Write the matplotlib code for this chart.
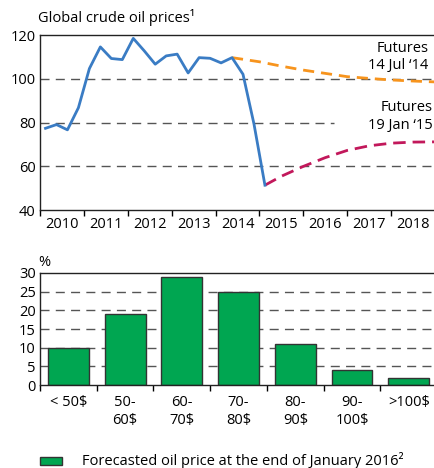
import numpy as np
import matplotlib.pyplot as plt
from matplotlib.patches import Rectangle

plt.rcParams['font.family'] = ['Open Sans', 'DejaVu Sans']
plt.rcParams['font.size'] = 10.5

# quarterly crude oil prices, USD/barrel
price_t = [2010.125, 2010.375, 2010.625, 2010.875, 2011.125, 2011.375, 2011.625,
           2011.875, 2012.125, 2012.375, 2012.625, 2012.875, 2013.125, 2013.375,
           2013.625, 2013.875, 2014.125, 2014.375, 2014.625, 2014.875, 2015.125]
price_v = [77.4, 79.1, 76.7, 86.8, 104.7, 114.6, 109.3, 108.8, 118.5, 112.8,
           106.7, 110.5, 111.3, 102.7, 109.7, 109.4, 107.3, 109.7, 102.1, 79.4, 51.4]

# futures curves
fut_jul_t = [2014.375, 2015.0, 2015.5, 2016.0, 2016.5, 2017.0, 2017.5, 2018.0, 2018.5, 2019.0]
fut_jul_v = [109.7, 107.8, 105.8, 104.0, 102.5, 101.0, 100.2, 99.5, 99.0, 98.6]

fut_jan_t = [2015.125, 2015.5, 2016.0, 2016.5, 2017.0, 2017.5, 2018.0, 2018.5, 2019.0]
fut_jan_v = [51.4, 55.5, 60.0, 64.0, 67.3, 69.4, 70.6, 71.1, 71.2]

years = list(range(2010, 2019))

bins = ['< 50$', '50-\n60$', '60-\n70$', '70-\n80$', '80-\n90$', '90-\n100$', '>100$']
shares = [10, 19, 29, 25, 11, 4, 2]

fig = plt.figure(figsize=(4.35, 4.68), dpi=100)
grid_kw = dict(color='#555555', lw=1.0, dashes=(6.5, 4.5), zorder=0)

# ---- top panel: oil prices ----
ax = fig.add_axes([0.092, 0.551, 0.908, 0.374])
ax.set_xlim(2010, 2019)
ax.set_ylim(40, 120)
for v in (60, 100):
    ax.axhline(v, **grid_kw)
ax.plot([2010, 2016.7], [80, 80], **grid_kw)
ax.plot(price_t, price_v, color='#3a7cc4', lw=2.0, zorder=3)
ax.plot(fut_jul_t, fut_jul_v, color='#f7941d', lw=2.0, dashes=(4, 2.5), zorder=2)
ax.plot(fut_jan_t, fut_jan_v, color='#c2185b', lw=2.0, dashes=(4.5, 2.5), zorder=2)
ax.text(2018.85, 117.5, 'Futures\n14 Jul \u201814', ha='right', va='top',
        linespacing=1.25)
ax.text(2018.95, 90.2, 'Futures\n19 Jan \u201815', ha='right', va='top',
        linespacing=1.25)
ax.set_yticks([40, 60, 80, 100, 120])
ax.set_xticks(years)
ax.set_xticklabels([])
ax.set_xticks([y + 0.5 for y in years], minor=True)
ax.set_xticklabels([str(y) for y in years], minor=True)
ax.tick_params(axis='x', which='major', direction='out', length=4, width=1)
ax.tick_params(axis='x', which='minor', length=0, pad=5)
ax.tick_params(axis='y', length=0, pad=3)
ax.spines['right'].set_visible(False)
for s in ('left', 'bottom', 'top'):
    ax.spines[s].set_linewidth(1.0)
    ax.spines[s].set_color('#222222')
fig.text(0.087, 0.962, 'Global crude oil prices\u00b9', ha='left', va='center')

# ---- bottom panel: forecast distribution ----
bx = fig.add_axes([0.092, 0.177, 0.913, 0.240])
pos = np.arange(len(bins)) + 0.5
bx.set_xlim(0, len(bins))
bx.set_ylim(0, 30)
for v in (5, 10, 15, 20, 25):
    bx.axhline(v, **grid_kw)
bx.bar(pos, shares, width=0.72, color='#00a651', edgecolor='#333333', lw=1.0, zorder=2)
bx.set_yticks([0, 5, 10, 15, 20, 25, 30])
bx.set_xticks(np.arange(len(bins) + 1))
bx.set_xticklabels([])
bx.set_xticks(pos, minor=True)
bx.set_xticklabels(bins, minor=True, va='top', linespacing=1.25)
bx.tick_params(axis='x', which='major', direction='out', length=4, width=1)
bx.tick_params(axis='x', which='minor', length=0, pad=7)
bx.tick_params(axis='y', length=0, pad=3)
bx.spines['right'].set_visible(False)
for s in ('left', 'bottom', 'top'):
    bx.spines[s].set_linewidth(1.0)
    bx.spines[s].set_color('#222222')
fig.text(0.087, 0.44, '%', ha='left', va='center')

# legend
fig.patches.append(Rectangle((0.092, 0.007), 0.051, 0.017, transform=fig.transFigure,
                             facecolor='#00a651', edgecolor='#333333', lw=1.0))
fig.text(0.188, 0.016, 'Forecasted oil price at the end of January 2016\u00b2',
         ha='left', va='center')

fig.savefig('out.png', dpi=100)
